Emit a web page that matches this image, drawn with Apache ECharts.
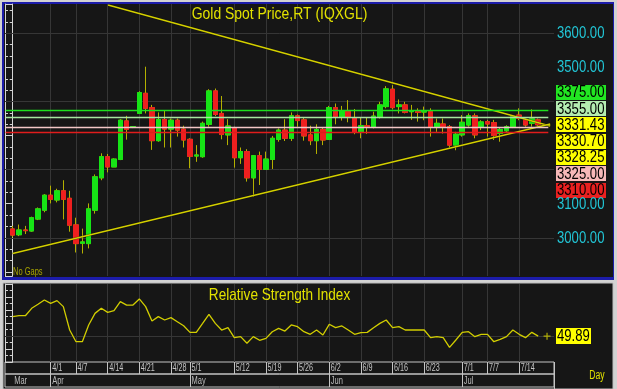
<!DOCTYPE html>
<html><head><meta charset="utf-8">
<script src="https://cdn.jsdelivr.net/npm/echarts@6/dist/echarts.min.js"></script>
<style>html,body{margin:0;padding:0;background:#d0d0d0;}#c{width:617px;height:389px;}</style>
</head><body><div id="c"></div>
<script>
// ---------- DATA ----------
const dates = ['3/24','3/25','3/26','3/27','3/28','3/31','4/1','4/2','4/3','4/4','4/7','4/8','4/9','4/10','4/11','4/14','4/15','4/16','4/17','4/18','4/21','4/22','4/23','4/24','4/25','4/28','4/29','4/30','5/1','5/2','5/5','5/6','5/7','5/8','5/9','5/12','5/13','5/14','5/15','5/16','5/19','5/20','5/21','5/22','5/23','5/26','5/27','5/28','5/29','5/30','6/2','6/3','6/4','6/5','6/6','6/9','6/10','6/11','6/12','6/13','6/16','6/17','6/18','6/19','6/20','6/23','6/24','6/25','6/26','6/27','6/30','7/1','7/2','7/3','7/4','7/7','7/8','7/9','7/10','7/11','7/14','7/15','7/16','7/17'];
const opens  = [3026,3009,3023,3020,3055,3081,3125,3111,3138,3116,3038,2984,2983,3081,3176,3238,3208,3230,3343,3325,3365,3424,3382,3285,3347,3319,3345,3319,3289,3240,3238,3333,3431,3365,3302,3323,3235,3253,3176,3241,3201,3230,3289,3316,3292,3358,3346,3302,3285,3318,3289,3382,3355,3372,3352,3311,3329,3324,3355,3385,3436,3385,3390,3370,3372,3369,3370,3326,3334,3326,3272,3302,3331,3358,3324,3341,3338,3306,3314,3326,3360,3346,3336,3346];
const closes = [3008,3023,3021,3059,3085,3125,3113,3138,3113,3037,2983,2988,3085,3179,3238,3208,3231,3345,3318,3326,3426,3380,3285,3347,3319,3345,3316,3287,3239,3243,3336,3431,3362,3303,3328,3235,3253,3176,3241,3201,3231,3292,3316,3292,3358,3344,3299,3285,3318,3287,3382,3355,3373,3355,3309,3329,3324,3357,3390,3437,3382,3390,3368,3373,3368,3371,3326,3336,3326,3272,3304,3339,3358,3302,3340,3334,3300,3318,3326,3355,3350,3331,3349,3331.43];
const lows   = [3001,3005,3011,3018,3052,3075,3101,3104,3054,3018,2957,2954,2969,3071,3169,3192,3208,3228,3288,3322,3364,3365,3258,3282,3265,3265,3297,3265,3204,3223,3235,3326,3357,3289,3272,3206,3217,3165,3121,3155,3201,3202,3282,3284,3284,3326,3285,3272,3246,3272,3287,3333,3344,3339,3304,3292,3305,3321,3350,3380,3377,3365,3365,3346,3341,3345,3297,3311,3306,3262,3257,3297,3326,3292,3316,3297,3287,3282,3310,3322,3345,3326,3326,3326];
const highs  = [3035,3039,3035,3062,3089,3128,3153,3144,3169,3138,3059,3027,3101,3186,3248,3246,3233,3348,3358,3328,3430,3502,3390,3368,3373,3350,3350,3329,3292,3272,3341,3436,3438,3416,3348,3326,3265,3260,3243,3253,3253,3299,3321,3348,3368,3362,3353,3329,3333,3324,3387,3394,3387,3404,3378,3353,3353,3370,3399,3445,3448,3406,3399,3390,3380,3385,3380,3350,3350,3331,3311,3360,3365,3365,3345,3346,3346,3322,3330,3358,3380,3350,3377,3350];
const rsi    = [64.9,65.6,65.6,71.3,74.4,77.7,75.1,77.2,72.6,54.6,45.6,45.6,58.5,67.4,71.3,68.2,69.5,76.4,73.8,73.8,78.5,72.6,61.5,64.9,62.3,64.1,61.0,57.9,52.8,52.8,59.7,66.7,59.7,54.6,56.4,48.7,49.5,44.4,49.5,46.7,48.2,53.3,55.9,53.8,58.5,57.2,53.3,51.3,54.6,50.8,59.0,56.4,57.7,54.6,51.3,52.6,52.8,56.4,59.7,62.3,56.4,57.2,54.6,54.6,54.6,54.6,48.7,49.5,48.7,41.3,46.9,52.8,53.3,49.5,51.3,51.3,45.6,47.4,49.5,54.6,51.3,48.7,52.8,49.89];
const weekLabels = ['4/1','4/7','4/14','4/21','4/28','5/1','5/12','5/19','5/26','6/2','6/9','6/16','6/23','7/1','7/7','7/14'];
const monthNames = ['Mar','Apr','May','Jun','Jul'];
const monthStarts = ['3/24','4/1','5/1','6/2','7/1'];
const priceTickLabels = [3600,3500,3100,3000];
const priceGridLevels = [3000,3200,3400,3600];
const levelValues = [3375,3355,3325,3310];
const trendDown = [[15.06,3683],[84.9,3328]];
const trendUp = [[0,2954],[84.9,3334]];
const sideLabelValues = [3375.00,3355.00,3331.43,3330.70,3328.25,3325.00,3310.00];
const rsiLast = 49.89;
const rsiCursor = [[84.4, 49.89]];
const rsiGridLevel = 50;
const titleText = 'Gold Spot Price,RT (IQXGL)';
const rsiTitleText = 'Relative Strength Index';

// ---------- STYLE ----------
const FONT = "'Liberation Sans',Arial,sans-serif";
const UP = '#16e416', DN = '#ee1f1f', WICK = '#b4b000';
const GRIDC = '#363636', AXC = '#d4d4d4';
const levelColors = ['#1ee01e','#a6e6a0','#f2c6c6','#e01c1c'];
const sideColors = ['#22e622','#b4ecb0','#ffff00','#ffff00','#ffff00','#f6b8b8','#e82020'];
const XMIN = -1.216, XMAX = 85.5;

const idx = d => dates.indexOf(d);
const weekIdx = weekLabels.map(idx);
const monthIdx = monthStarts.map(idx);

const gridMarks = {silent:true, symbol:['none','none'], z:1, animation:false, label:{show:false},
  lineStyle:{color:GRIDC, width:1, type:'solid'}, emphasis:{disabled:true}};

function yAx(grid, pos, min, max, extra){
  return Object.assign({type:'value', gridIndex:grid, position:pos, min:min, max:max,
    axisLine:{show:true, lineStyle:{color:AXC, width:1}},
    axisTick:{show:true, inside:true, length:5, lineStyle:{color:AXC}},
    minorTick:{show:true, splitNumber:3, length:3, lineStyle:{color:AXC}},
    splitLine:{show:false}, axisLabel:{show:false}}, extra||{});
}
function txt(id, x, y, text, color, size, align, sx){
  return {type:'text', id:id, z:50, silent:true, x:x, y:y, scaleX:sx, scaleY:1,
    style:{text:text, fill:color, font:size+'px '+FONT, align:align, verticalAlign:'middle'}};
}

const option = {
  animation:false,
  backgroundColor:'transparent',
  grid:[
    {left:5, top:4, width:549, height:272},
    {left:5, top:284, width:549, height:78},
    {left:5, top:362, width:549, height:12, show:true, borderColor:'#c4c4c4', borderWidth:1, backgroundColor:'transparent'},
    {left:5, top:374, width:549, height:13, show:true, borderColor:'#c4c4c4', borderWidth:1, backgroundColor:'transparent'}
  ],
  xAxis:[0,1,2,3].map(g=>({type:'value', gridIndex:g, min:XMIN, max:XMAX, show:false})),
  yAxis:[
    yAx(0,'right',2888,3686,{splitNumber:8}),
    yAx(0,'left',2888,3686,{splitNumber:8}),
    yAx(1,'right',30,90,{interval:10, minorTick:{show:true, splitNumber:2, length:3, lineStyle:{color:AXC}}}),
    yAx(1,'left',30,90,{interval:10, minorTick:{show:true, splitNumber:2, length:3, lineStyle:{color:AXC}}}),
    {type:'value', gridIndex:2, min:0, max:1, show:false},
    {type:'value', gridIndex:3, min:0, max:1, show:false}
  ],
  series:[
    { // wicks (yellow)
      type:'candlestick', xAxisIndex:0, yAxisIndex:0, barWidth:5, z:2,
      data: dates.map((d,i)=>[i, opens[i], closes[i], lows[i], highs[i]]),
      itemStyle:{color:'rgba(0,0,0,0)', color0:'rgba(0,0,0,0)', borderColor:WICK, borderColor0:WICK, borderColorDoji:WICK, borderWidth:1},
      markLine:Object.assign({}, gridMarks, {data:[...weekIdx.map(v=>({xAxis:v})), ...priceGridLevels.map(v=>({yAxis:v}))]})
    },
    { // bodies
      type:'candlestick', xAxisIndex:0, yAxisIndex:0, barWidth:5, z:3,
      data: dates.map((d,i)=>[i, opens[i], closes[i], Math.min(opens[i],closes[i]), Math.max(opens[i],closes[i])]),
      itemStyle:{color:UP, color0:DN, borderColor:UP, borderColor0:DN, borderColorDoji:WICK, borderWidth:1},
      markLine:{silent:true, symbol:['none','none'], z:5, animation:false, label:{show:false}, emphasis:{disabled:true},
        data: levelValues.map((v,k)=>[{coord:[XMIN+0.1, v], lineStyle:{color:levelColors[k], width:1.3, type:'solid'}}, {coord:[84.6, v]}])}
    },
    {type:'line', xAxisIndex:0, yAxisIndex:0, data:trendDown, symbol:'none', z:4, silent:true,
      lineStyle:{color:'#d4d000', width:1.6, shadowColor:'#000', shadowBlur:1}},
    {type:'line', xAxisIndex:0, yAxisIndex:0, data:trendUp, symbol:'none', z:4, silent:true,
      lineStyle:{color:'#d4d000', width:1.6, shadowColor:'#000', shadowBlur:1}},
    { // RSI
      type:'line', xAxisIndex:1, yAxisIndex:2, data: rsi.map((v,i)=>[i,v]), symbol:'none', z:3, silent:true,
      lineStyle:{color:'#d2ce00', width:1.3},
      markLine:Object.assign({}, gridMarks, {data:[...weekIdx.map(v=>({xAxis:v})), {yAxis:rsiGridLevel}]})
    },
    { // RSI cursor cross
      type:'scatter', xAxisIndex:1, yAxisIndex:2, data:rsiCursor, silent:true, z:4,
      symbol:'path://M0,3H6M3,0V6', symbolSize:7, itemStyle:{color:'rgba(0,0,0,0)', borderColor:'#d2ce00', borderWidth:1.2}
    },
    { // date row separators
      type:'scatter', xAxisIndex:2, yAxisIndex:4, symbolSize:0, silent:true, z:5,
      data: weekLabels.map(d=>[idx(d), 0.5]),
      markLine:{silent:true, symbol:['none','none'], animation:false, label:{show:false}, emphasis:{disabled:true},
        lineStyle:{color:'#c4c4c4', width:1, type:'solid'}, data: weekIdx.map(v=>({xAxis:v}))}
    },
    { // month row separators
      type:'scatter', xAxisIndex:3, yAxisIndex:5, symbolSize:0, silent:true, z:5,
      data: monthIdx.map(v=>[v, 0.5]),
      markLine:{silent:true, symbol:['none','none'], animation:false, label:{show:false}, emphasis:{disabled:true},
        lineStyle:{color:'#c4c4c4', width:1, type:'solid'}, data: monthIdx.slice(1).map(v=>({xAxis:v}))}
    }
  ],
  graphic:[
    {type:'rect', id:'bg0', z:-30, silent:true, shape:{x:0,y:0,width:617,height:389}, style:{fill:'#d2d2d2'}},
    {type:'rect', id:'bg1', z:-29, silent:true, shape:{x:2,y:2,width:612,height:278}, style:{fill:'#1c1caa'}},
    {type:'rect', id:'bg2', z:-28, silent:true, shape:{x:4,y:4,width:609,height:273}, style:{fill:'#161616'}},
    {type:'rect', id:'bg3', z:-28, silent:true, shape:{x:3,y:283,width:610,height:106}, style:{fill:'#161616', stroke:'#bdbdbd', lineWidth:1}},
    {type:'line', id:'vsep', z:5, silent:true, shape:{x1:554.5,y1:362,x2:554.5,y2:389}, style:{stroke:'#c4c4c4', lineWidth:1}},
    txt('t1', 279.5, 14, titleText, '#e2e200', 17, 'center', 0.82),
    txt('t2', 279.5, 295, rsiTitleText, '#e2e200', 17, 'center', 0.8),
    txt('t3', 13, 272, 'No Gaps', '#a8a400', 10, 'left', 0.75),
    txt('t4', 597, 376, 'Day', '#e0e000', 12, 'center', 0.72)
  ]
};

const chart = echarts.init(document.getElementById('c'), null, {renderer:'canvas'});
chart.setOption(option);

const extra = [];
// price axis tick labels
priceTickLabels.forEach((v,k)=>{
  const y = chart.convertToPixel({yAxisIndex:0}, v);
  extra.push(txt('pl'+k, 557, Math.round(y)+0.5, v.toFixed(2), '#22c6d6', 16, 'left', 0.82));
});
// stacked value labels on the right price axis, anchored at the last close
const anchor = sideLabelValues.indexOf(closes[closes.length-1]);
const anchorY = chart.convertToPixel({yAxisIndex:0}, sideLabelValues[anchor]);
sideLabelValues.forEach((v,k)=>{
  const y = anchorY + (k-anchor)*16.3;
  extra.push({type:'rect', id:'sb'+k, z:40, silent:true, shape:{x:556,y:Math.round(y-7.5),width:50,height:15}, style:{fill:sideColors[k]}});
  extra.push(txt('st'+k, 557, Math.round(y)+0.5, v.toFixed(2), '#000', 16, 'left', 0.82));
});
const ry = chart.convertToPixel({yAxisIndex:2}, rsiLast);
extra.push({type:'rect', id:'rb', z:40, silent:true, shape:{x:556,y:Math.round(ry-8),width:35,height:16}, style:{fill:'#ffff00'}});
extra.push(txt('rt', 557, Math.round(ry)+0.5, rsiLast.toFixed(2), '#000', 16, 'left', 0.82));
// date labels and month labels
weekLabels.forEach((d,k)=>{
  const x = chart.convertToPixel({xAxisIndex:2}, idx(d));
  extra.push(txt('wl'+k, x+1.5, 368.5, d, '#c4c4c4', 10, 'left', 0.72));
});
monthNames.forEach((m,k)=>{
  const x = chart.convertToPixel({xAxisIndex:3}, monthIdx[k]);
  extra.push(txt('ml'+k, x+1.5, 381, m, '#bcbcbc', 10, 'left', 0.75));
});
chart.setOption({graphic: extra});
</script>
</body></html>
